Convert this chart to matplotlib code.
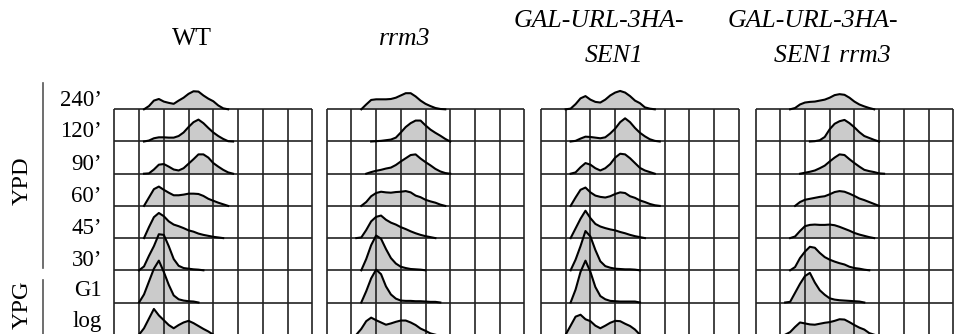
import matplotlib
matplotlib.use("Agg")
import matplotlib.pyplot as plt
from matplotlib.lines import Line2D
import numpy as np

# ---- data -------------------------------------------------------------
strains = ["WT", "rrm3", "GAL-URL-3HA-\nSEN1", "GAL-URL-3HA-\nSEN1 rrm3"]
time_points = ["240\u2019", "120\u2019", "90\u2019", "60\u2019", "45\u2019", "30\u2019", "G1", "log"]
media = ["YPD", "YPG"]

# DNA-content axis (grid units) shared by all histograms
dna_content = [1.0, 1.2, 1.4, 1.6, 1.8, 2.0, 2.2, 2.4, 2.6, 2.8, 3.0,
               3.2, 3.4, 3.6, 3.8, 4.0, 4.2, 4.4, 4.6, 4.8, 5.0, 5.2]

# relative cell counts (row heights), rows ordered as time_points
wt_counts = [
    [0, 0, 0.10, 0.27, 0.32, 0.24, 0.20, 0.17, 0.27, 0.36, 0.48, 0.56, 0.55, 0.43, 0.33, 0.25, 0.12, 0.03, 0, 0, 0, 0],
    [0, 0, 0.03, 0.10, 0.13, 0.13, 0.12, 0.12, 0.17, 0.28, 0.45, 0.60, 0.68, 0.57, 0.42, 0.28, 0.17, 0.08, 0.01, 0, 0, 0],
    [0, 0, 0.01, 0.13, 0.28, 0.30, 0.22, 0.13, 0.10, 0.17, 0.31, 0.45, 0.60, 0.60, 0.50, 0.33, 0.22, 0.12, 0.04, 0, 0, 0],
    [0, 0, 0.26, 0.52, 0.60, 0.50, 0.41, 0.33, 0.33, 0.35, 0.38, 0.38, 0.37, 0.31, 0.22, 0.16, 0.10, 0.05, 0, 0, 0, 0],
    [0, 0, 0.34, 0.65, 0.78, 0.68, 0.52, 0.42, 0.37, 0.31, 0.24, 0.20, 0.14, 0.10, 0.07, 0.04, 0.02, 0, 0, 0, 0, 0],
    [0, 0.12, 0.45, 0.75, 1.12, 1.10, 0.75, 0.35, 0.14, 0.07, 0.05, 0.03, 0.02, 0, 0, 0, 0, 0, 0, 0, 0, 0],
    [0, 0.25, 0.65, 1.05, 1.30, 0.95, 0.55, 0.22, 0.10, 0.06, 0.04, 0.03, 0, 0, 0, 0, 0, 0, 0, 0, 0, 0],
    [0, 0.20, 0.50, 0.80, 0.60, 0.45, 0.30, 0.20, 0.30, 0.38, 0.43, 0.36, 0.27, 0.18, 0.10, 0, 0, 0, 0, 0, 0, 0],
]
rrm3_counts = [
    [0, 0, 0, 0.15, 0.29, 0.31, 0.31, 0.31, 0.32, 0.36, 0.43, 0.50, 0.50, 0.40, 0.27, 0.17, 0.10, 0.04, 0.01, 0, 0, 0],
    [0, 0, 0, 0, 0, 0.01, 0.02, 0.04, 0.06, 0.12, 0.28, 0.45, 0.57, 0.65, 0.65, 0.50, 0.37, 0.27, 0.18, 0.08, 0, 0],
    [0, 0, 0, 0, 0.05, 0.09, 0.12, 0.16, 0.19, 0.27, 0.38, 0.48, 0.58, 0.60, 0.47, 0.36, 0.26, 0.15, 0.07, 0.02, 0, 0],
    [0, 0, 0, 0.12, 0.30, 0.40, 0.44, 0.42, 0.41, 0.43, 0.44, 0.46, 0.42, 0.32, 0.27, 0.19, 0.14, 0.10, 0.04, 0, 0, 0],
    [0, 0, 0.02, 0.25, 0.52, 0.66, 0.70, 0.57, 0.48, 0.42, 0.34, 0.28, 0.21, 0.15, 0.10, 0.06, 0.03, 0, 0, 0, 0, 0],
    [0, 0, 0, 0.35, 0.78, 1.08, 0.98, 0.66, 0.38, 0.21, 0.11, 0.07, 0.04, 0.03, 0.02, 0, 0, 0, 0, 0, 0, 0],
    [0, 0, 0, 0.35, 0.75, 1.02, 0.88, 0.50, 0.25, 0.12, 0.06, 0.05, 0.05, 0.04, 0.04, 0.03, 0.02, 0.02, 0, 0, 0, 0],
    [0, 0, 0.18, 0.42, 0.53, 0.45, 0.38, 0.31, 0.35, 0.40, 0.44, 0.44, 0.38, 0.30, 0.19, 0.12, 0.04, 0, 0, 0, 0, 0],
]
sen1_counts = [
    [0, 0.02, 0.16, 0.34, 0.41, 0.30, 0.23, 0.21, 0.30, 0.43, 0.52, 0.57, 0.52, 0.41, 0.27, 0.19, 0.06, 0.02, 0, 0, 0, 0],
    [0, 0, 0.02, 0.09, 0.15, 0.14, 0.12, 0.10, 0.13, 0.25, 0.40, 0.60, 0.72, 0.60, 0.42, 0.27, 0.16, 0.07, 0.02, 0, 0, 0],
    [0, 0, 0.04, 0.20, 0.33, 0.28, 0.17, 0.10, 0.17, 0.30, 0.50, 0.62, 0.60, 0.48, 0.33, 0.18, 0.10, 0.05, 0, 0, 0, 0],
    [0, 0, 0.26, 0.50, 0.57, 0.42, 0.32, 0.28, 0.26, 0.30, 0.37, 0.42, 0.40, 0.30, 0.25, 0.17, 0.12, 0.06, 0.02, 0, 0, 0],
    [0, 0, 0.30, 0.60, 0.85, 0.62, 0.44, 0.36, 0.31, 0.27, 0.24, 0.19, 0.15, 0.10, 0.06, 0.03, 0, 0, 0, 0, 0, 0],
    [0, 0, 0.33, 0.75, 1.22, 1.05, 0.63, 0.28, 0.13, 0.08, 0.05, 0.04, 0.03, 0.03, 0.02, 0, 0, 0, 0, 0, 0, 0],
    [0, 0, 0.40, 0.95, 1.30, 0.95, 0.48, 0.20, 0.10, 0.05, 0.04, 0.03, 0.03, 0.03, 0.03, 0, 0, 0, 0, 0, 0, 0],
    [0, 0.28, 0.56, 0.62, 0.48, 0.42, 0.28, 0.20, 0.28, 0.37, 0.43, 0.42, 0.34, 0.27, 0.16, 0, 0, 0, 0, 0, 0, 0],
]
sen1_rrm3_counts = [
    [0, 0, 0, 0.04, 0.15, 0.21, 0.23, 0.24, 0.27, 0.30, 0.36, 0.44, 0.47, 0.45, 0.36, 0.24, 0.15, 0.09, 0.04, 0, 0, 0],
    [0, 0, 0, 0, 0, 0, 0, 0.01, 0.04, 0.14, 0.38, 0.55, 0.63, 0.67, 0.57, 0.44, 0.29, 0.17, 0.11, 0.05, 0, 0],
    [0, 0, 0, 0, 0, 0.03, 0.06, 0.10, 0.17, 0.25, 0.38, 0.50, 0.60, 0.58, 0.45, 0.33, 0.22, 0.12, 0.08, 0.05, 0.01, 0],
    [0, 0, 0, 0, 0.12, 0.19, 0.22, 0.25, 0.28, 0.30, 0.36, 0.43, 0.46, 0.44, 0.38, 0.31, 0.23, 0.18, 0.12, 0.06, 0, 0],
    [0, 0, 0, 0.05, 0.22, 0.37, 0.41, 0.42, 0.41, 0.41, 0.42, 0.40, 0.35, 0.29, 0.23, 0.16, 0.11, 0.07, 0.03, 0, 0, 0],
    [0, 0, 0, 0.10, 0.38, 0.58, 0.73, 0.70, 0.54, 0.41, 0.33, 0.27, 0.22, 0.18, 0.11, 0.07, 0.05, 0.02, 0, 0, 0, 0],
    [0, 0, 0.02, 0.30, 0.58, 0.82, 0.92, 0.62, 0.38, 0.24, 0.13, 0.09, 0.07, 0.06, 0.05, 0.04, 0.03, 0, 0, 0, 0, 0],
    [0, 0, 0.08, 0.24, 0.38, 0.35, 0.32, 0.31, 0.34, 0.37, 0.39, 0.43, 0.48, 0.47, 0.39, 0.30, 0.22, 0.16, 0.05, 0, 0, 0],
]
all_counts = [wt_counts, rrm3_counts, sen1_counts, sen1_rrm3_counts]

# ---- layout -----------------------------------------------------------
W, H = 968, 334
FONT = "Liberation Serif"
fig = plt.figure(figsize=(W / 100, H / 100), dpi=100)

panel_px = [(114.3, 312.3), (326.7, 524.3), (540.9, 739.0), (755.5, 953.3)]
row_px = 32.2
y_bottom_px = 334.7
n_rows = len(time_points)
n_cols = 8
grid_color = "#222222"
fill_color = "#cbcbcb"

x = np.array(dna_content)
axes = []
for p, (l, r) in enumerate(panel_px):
    ax = fig.add_axes([l / W, (H - y_bottom_px) / H, (r - l) / W, (n_rows * row_px) / H])
    ax.set_xlim(0, n_cols)
    ax.set_ylim(0, n_rows)
    ax.axis("off")
    # grid
    for i in range(n_cols + 1):
        ax.plot([i, i], [0, n_rows - 1], color=grid_color, lw=1.2, zorder=2,
                solid_capstyle="butt", clip_on=False)
    for j in range(n_rows):
        ax.plot([0, n_cols], [j, j], color=grid_color, lw=1.2, zorder=2,
                solid_capstyle="butt", clip_on=False)
    # histograms
    for r_i, counts in enumerate(all_counts[p]):
        base = n_rows - 1 - r_i
        h = np.array(counts, dtype=float)
        nz = np.nonzero(h)[0]
        lo, hi = max(nz[0] - 1, 0), min(nz[-1] + 1, len(h) - 1)
        xs, ys = x[lo:hi + 1], base + h[lo:hi + 1]
        ax.fill_between(xs, base, ys, color=fill_color, lw=0, zorder=1, clip_on=False)
        ax.plot(xs, ys, color="black", lw=1.5, zorder=3, clip_on=False,
                solid_joinstyle="round")
    axes.append(ax)

# row labels
ax0 = axes[0]
label_offsets = [0.26, 0.3, 0.3, 0.3, 0.3, 0.3, 0.38, 0.42]
for r_i, lab in enumerate(time_points):
    base = n_rows - 1 - r_i
    ax0.text(-0.5, base + label_offsets[r_i], lab, ha="right", va="center",
             fontsize=16.5, family=FONT, clip_on=False)

# column titles (each line placed separately)
title_lines = [
    [(strains[0], 192, 39)],
    [(strains[1], 405, 39)],
    [(strains[2].split("\n")[0], 599, 21), (strains[2].split("\n")[1], 614, 56)],
    [(strains[3].split("\n")[0], 813, 21), (strains[3].split("\n")[1], 832, 56)],
]
for k, lines in enumerate(title_lines):
    for txt, tx, ty in lines:
        fig.text(tx / W, 1 - ty / H, txt, ha="center", va="center", fontsize=18.5,
                 family=FONT, style="normal" if k == 0 else "italic")

# media labels with brackets
fig.text(22 / W, 1 - 181 / H, media[0], rotation=90, ha="center", va="center",
         fontsize=17.5, family=FONT)
fig.text(22 / W, 1 - 305 / H, media[1], rotation=90, ha="center", va="center",
         fontsize=17.5, family=FONT)
fig.add_artist(Line2D([42.7 / W, 42.7 / W], [1 - 83 / H, 1 - 268 / H],
                      color="#555555", lw=1.2, transform=fig.transFigure))
fig.add_artist(Line2D([42.7 / W, 42.7 / W], [1 - 280 / H, 0],
                      color="#555555", lw=1.2, transform=fig.transFigure))

fig.savefig("out.png", dpi=100, facecolor="white")
